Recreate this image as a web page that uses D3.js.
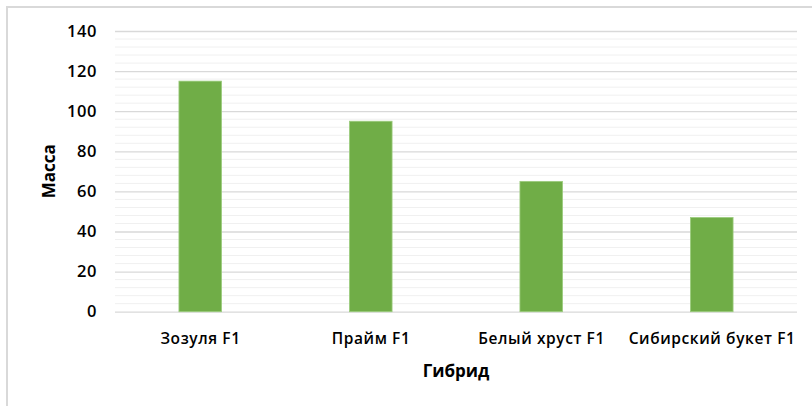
<!DOCTYPE html>
<html>
<head>
<meta charset="utf-8">
<script src="https://cdn.jsdelivr.net/npm/d3@7"></script>
<style>
  body { margin: 0; background: #fff; }
  text { font-family: "Open Sans", "Noto Sans", sans-serif; fill: #000; }
</style>
</head>
<body>
<svg id="chart"></svg>
<script>
// data
var hybrids = ["Зозуля F1", "Прайм F1", "Белый хруст F1", "Сибирский букет F1"];
var mass = [115, 95, 65, 47];
var yTicks = [0, 20, 40, 60, 80, 100, 120, 140];

var width = 812
  , height = 406
  , plotLeft = 115
  , plotRight = 797
  , plotTop = 31
  , plotBottom = 311.7;

var svg = d3.select("#chart")
  .attr("width", width)
  .attr("height", height);

// chart frame (only top and left edges are in view)
svg.append("path")
  .attr("d", "M7," + height + "V7H" + width)
  .attr("fill", "none")
  .attr("stroke", "#d9d9d9")
  .attr("stroke-width", 2);

var x = d3.scaleBand()
  .domain(hybrids)
  .range([plotLeft, plotRight])
  .paddingInner(0.75)
  .paddingOuter(0.375);

var y = d3.scaleLinear()
  .domain([0, 140])
  .range([plotBottom, plotTop]);

// minor gridlines every 4
var minor = d3.range(4, 140, 4).filter(d => d % 20 != 0);
svg.append("g").selectAll("line")
  .data(minor)
 .enter().append("line")
  .attr("x1", plotLeft).attr("x2", plotRight)
  .attr("y1", d => y(d)).attr("y2", d => y(d))
  .attr("stroke", "#f0f0f0")
  .attr("stroke-width", 1);

// major gridlines + tick labels
var yAxis = svg.append("g")
  .attr("transform", "translate(" + plotLeft + ",0)")
  .call(d3.axisLeft(y).tickValues(yTicks).tickSize(-(plotRight - plotLeft)).tickPadding(18));
yAxis.select(".domain").remove();
yAxis.selectAll(".tick line")
  .attr("stroke", "#d9d9d9")
  .attr("stroke-width", 1.3);
yAxis.selectAll(".tick text")
  .style("font-size", "16.5px")
  .style("font-weight", "600")
  .style("letter-spacing", "0.6px")
  .attr("fill", "#000");

// bars
svg.append("g").selectAll("rect")
  .data(mass)
 .enter().append("rect")
  .attr("x", (d, i) => x(hybrids[i]))
  .attr("y", d => y(d))
  .attr("width", x.bandwidth())
  .attr("height", d => y(0) - y(d))
  .attr("fill", "#70ad47")
  .attr("stroke", "#9ccc7e")
  .attr("stroke-width", 0.8);

// category labels
svg.append("g").selectAll("text")
  .data(hybrids)
 .enter().append("text")
  .attr("x", d => x(d) + x.bandwidth() / 2 + 0.3)
  .attr("y", 344)
  .attr("text-anchor", "middle")
  .style("font-size", "15.5px")
  .style("font-weight", "600")
  .style("letter-spacing", "0.6px")
  .text(d => d);

// axis titles
svg.append("text")
  .attr("x", (plotLeft + plotRight) / 2)
  .attr("y", 377)
  .attr("text-anchor", "middle")
  .style("font-size", "17px")
  .style("font-weight", "700")
  .text("Гибрид");

svg.append("text")
  .attr("transform", "translate(55," + ((plotTop + plotBottom) / 2) + ") rotate(-90)")
  .attr("text-anchor", "middle")
  .style("font-size", "17px")
  .style("font-weight", "700")
  .text("Масса");
</script>
</body>
</html>
